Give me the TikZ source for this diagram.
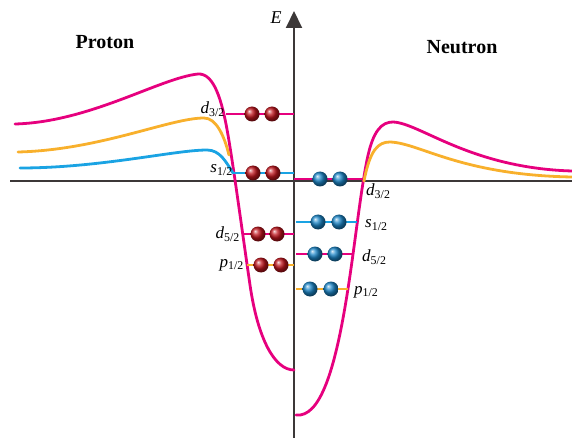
\documentclass[tikz,border=0pt]{standalone}
\usepackage{fontspec}
\setmainfont{Liberation Serif}
\usetikzlibrary{positioning, arrows.meta}
\definecolor{magcol}{HTML}{E6007E}
\definecolor{orcol}{HTML}{F8B02C}
\definecolor{bluecol}{HTML}{1AA3E3}
\definecolor{axcol}{HTML}{3C3838}
\definecolor{redball}{HTML}{C0141C}
\definecolor{blueball}{HTML}{1B86C8}
\tikzset{
  axis/.style={draw=axcol, line width=2pt},
  wave/.style={line width=2.8pt, line cap=round},
  level/.style={line width=2.6pt},
  pball/.style={circle, inner sep=0pt, minimum size=15pt, ball color=redball},
  nball/.style={circle, inner sep=0pt, minimum size=15pt, ball color=blueball},
  lab/.style={inner sep=0pt, font=\fontsize{17}{19}\selectfont},
  title/.style={font=\fontsize{20}{23}\selectfont\bfseries},
}
\newcommand{\orb}[2]{\textit{#1}\textsubscript{#2}}

\begin{document}
\begin{tikzpicture}[x=1pt, y=-1pt, node distance=2pt]
    \useasboundingbox (0,0) rectangle (572,438);
    \coordinate (xl) at (10,181);
    \coordinate (xr) at (572,181);
    \coordinate (yb) at (294,438);
    \coordinate (yt) at (294,11);
    \draw[axis] (xl) -- (xr);
    \draw[axis, -{Triangle[width=16pt,length=17pt]}] (yb) -- (yt);
    \node[font=\fontsize{18}{20}\selectfont\itshape] (E) at (276,18) {E};
    \node[title] (proton) at (105,42) {Proton};
    \node[title] (neutron) at (462,47) {Neutron};

    \draw[wave, magcol] (15,124) .. controls (90,122) and (160,78) .. (198,74)
      .. controls (214,73) and (222,100) .. (228,135)
      .. controls (234,170) and (242,230) .. (250,285)
      .. controls (258,340) and (275,370) .. (294,370);
    \draw[wave, orcol] (18,152) .. controls (100,150) and (170,118) .. (204,118)
      .. controls (216,118) and (224,135) .. (229,155);
    \draw[wave, bluecol] (20,168) .. controls (100,168) and (175,150) .. (207,150)
      .. controls (220,150) and (226,162) .. (233,173);

    \draw[wave, magcol] (296,415) .. controls (320,418) and (335,370) .. (347,295)
      .. controls (355,245) and (360,195) .. (367,160)
      .. controls (373,130) and (382,122) .. (393,122)
      .. controls (420,123) and (470,168) .. (572,171);
    \draw[wave, orcol] (364,181) .. controls (370,150) and (378,142) .. (390,142)
      .. controls (420,143) and (460,175) .. (572,177);

    \coordinate (pd32l) at (226,114); \coordinate (pd32r) at (294,114);
    \coordinate (ps12l) at (233,173); \coordinate (ps12r) at (294,173);
    \coordinate (pd52l) at (244,234); \coordinate (pd52r) at (294,234);
    \coordinate (pp12l) at (247,265); \coordinate (pp12r) at (294,265);
    \draw[level, magcol] (pd32l) -- (pd32r);
    \draw[level, bluecol] (ps12l) -- (ps12r);
    \draw[level, magcol] (pd52l) -- (pd52r);
    \draw[level, orcol] (pp12l) -- (pp12r);
    \node[pball] (pd32a) at (252,114) {}; \node[pball] (pd32b) at (272,114) {};
    \node[pball] (ps12a) at (253,173) {}; \node[pball] (ps12b) at (273,173) {};
    \node[pball] (pd52a) at (258,234) {}; \node[pball] (pd52b) at (277,234) {};
    \node[pball] (pp12a) at (261,265) {}; \node[pball] (pp12b) at (281,265) {};
    \node[lab, left=1pt of pd32l, yshift=5pt] (pd32t) {\orb{d}{3/2}};
    \node[lab, left=0pt of ps12l, yshift=3pt] (ps12t) {\orb{s}{1/2}};
    \node[lab, left=4pt of pd52l] (pd52t) {\orb{d}{5/2}};
    \node[lab, left=3pt of pp12l] (pp12t) {\orb{p}{1/2}};

    \coordinate (nd32l) at (294,179); \coordinate (nd32r) at (363,179);
    \coordinate (ns12l) at (296,222); \coordinate (ns12r) at (357,222);
    \coordinate (nd52l) at (296,254); \coordinate (nd52r) at (352,254);
    \coordinate (np12l) at (296,289); \coordinate (np12r) at (348,289);
    \draw[level, magcol] (nd32l) -- (nd32r);
    \draw[level, bluecol] (ns12l) -- (ns12r);
    \draw[level, magcol] (nd52l) -- (nd52r);
    \draw[level, orcol] (np12l) -- (np12r);
    \node[nball] (nd32a) at (320,179) {}; \node[nball] (nd32b) at (340,179) {};
    \node[nball] (ns12a) at (318,222) {}; \node[nball] (ns12b) at (339,222) {};
    \node[nball] (nd52a) at (315,254) {}; \node[nball] (nd52b) at (335,254) {};
    \node[nball] (np12a) at (310,289) {}; \node[nball] (np12b) at (331,289) {};
    \node[lab, right=3pt of nd32r, yshift=-12pt] (nd32t) {\orb{d}{3/2}};
    \node[lab, right=8pt of ns12r, yshift=-3pt] (ns12t) {\orb{s}{1/2}};
    \node[lab, right=10pt of nd52r, yshift=-3pt] (nd52t) {\orb{d}{5/2}};
    \node[lab, right=6pt of np12r, yshift=-3pt] (np12t) {\orb{p}{1/2}};
\end{tikzpicture}
\end{document}
